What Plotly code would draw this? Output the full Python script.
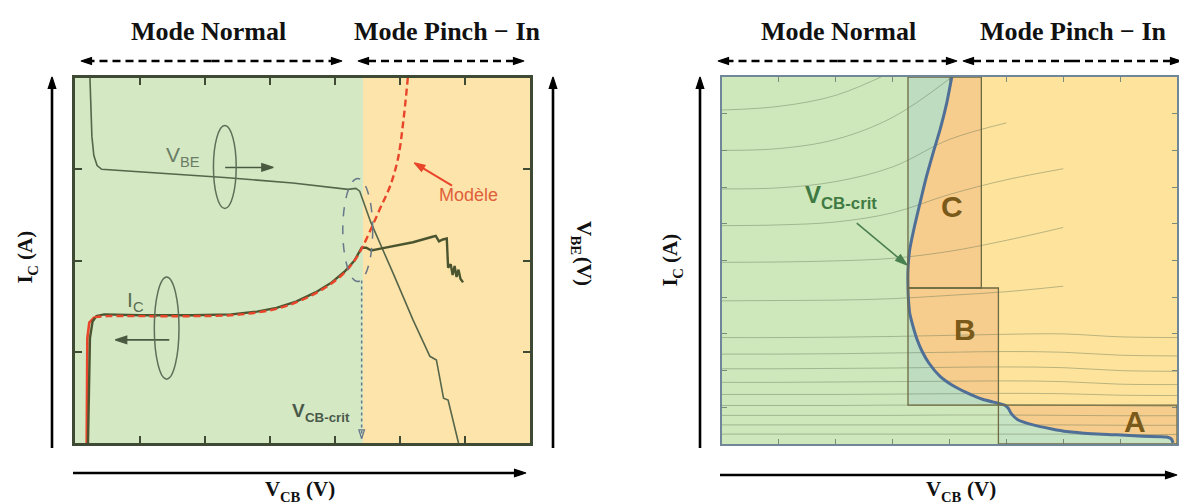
import math
import numpy as np
import plotly.graph_objects as go

# page geometry: the browser body adds an 8px margin, so the figure is placed at (8, 8)
OFF = 8
PAGE_W, PAGE_H = 1187, 504
W, H = PAGE_W - 2 * OFF, PAGE_H

# ---------------- Left panel data (x: V_CB 0..7, y: 0..4) ----------------
VBE_X = [0.23, 0.24, 0.26, 0.29, 0.34, 0.41, 1.30, 2.30, 3.35, 4.20, 4.32, 4.38, 4.42,
         4.55, 4.90, 5.20, 5.46, 5.56, 5.67, 5.74, 5.90]
VBE_Y = [4.00, 3.70, 3.36, 3.15, 3.04, 3.00, 2.96, 2.91, 2.85, 2.78, 2.79, 2.76, 2.68,
         2.42, 1.85, 1.35, 0.95, 0.91, 0.49, 0.47, 0.00]

IC_X = [0.20, 0.21, 0.23, 0.27, 0.33, 0.45, 1.00, 1.80, 2.40, 2.80, 3.10, 3.40, 3.70,
        3.95, 4.15, 4.30, 4.41, 4.48, 4.56, 4.70, 4.90, 5.20, 5.50, 5.55, 5.60, 5.66,
        5.72, 5.74, 5.78, 5.81, 5.84, 5.87, 5.90, 5.93, 5.97]
IC_Y = [0.00, 0.60, 1.15, 1.33, 1.39, 1.41, 1.40, 1.40, 1.41, 1.44, 1.48, 1.55, 1.65,
        1.76, 1.88, 2.00, 2.14, 2.14, 2.11, 2.13, 2.16, 2.20, 2.26, 2.27, 2.21, 2.23,
        2.24, 1.92, 1.96, 1.84, 1.94, 1.82, 1.90, 1.80, 1.76]

MODEL_X = [0.18, 0.18, 0.19, 0.22, 0.30, 0.50, 1.00, 1.80, 2.40, 2.80, 3.10, 3.40, 3.70,
           3.95, 4.15, 4.30, 4.41, 4.55, 4.70, 4.85, 4.97, 5.05, 5.12]
MODEL_Y = [0.00, 0.70, 1.15, 1.32, 1.38, 1.39, 1.39, 1.39, 1.40, 1.43, 1.47, 1.54, 1.64,
           1.75, 1.87, 2.00, 2.13, 2.34, 2.58, 2.82, 3.12, 3.52, 4.00]
MODEL_SOLID_PTS = 5

V_CRIT_LEFT = 4.43
LEFT_X_MAX, LEFT_Y_MAX = 7, 4

# ---------------- Right panel data (x: V_CB 0..8, y: I_C 0..10) ----------------
BOUND_X = [4.04, 3.95, 3.84, 3.71, 3.58, 3.48, 3.38, 3.30, 3.27, 3.27, 3.28, 3.30, 3.36,
           3.43, 3.52, 3.64, 3.83, 4.05, 4.30, 4.58, 4.86, 4.97, 5.03, 5.09, 5.20, 5.47,
           5.80, 6.06, 6.50, 6.94, 7.40, 7.82, 7.90, 7.93]
BOUND_Y = [10.0, 9.28, 8.60, 7.92, 7.20, 6.56, 5.90, 5.29, 4.74, 4.25, 3.90, 3.57, 3.20,
           2.85, 2.52, 2.20, 1.85, 1.60, 1.40, 1.22, 1.11, 1.06, 0.98, 0.82, 0.66, 0.52,
           0.41, 0.34, 0.28, 0.25, 0.21, 0.19, 0.14, 0.03]

BOX_LEFT = 3.27
BOX_C_RIGHT = 4.56
BOX_B_RIGHT = 4.86
Y_CB = 4.25
Y_BA = 1.06
RIGHT_X_MAX, RIGHT_Y_MAX = 8, 10

CONTOUR_X = [0, 1, 2, 3, 4, 5, 6, 7, 8]
CONTOUR_UPPER = [
    [9.10, 9.20, 9.50, 10.15, None, None, None, None, None],
    [8.00, 8.05, 8.30, 8.90, 9.95, None, None, None, None],
    [6.95, 6.98, 7.15, 7.55, 8.30, 8.75, None, None, None],
    [5.95, 5.97, 6.05, 6.30, 6.80, 7.20, 7.50, None, None],
    [4.95, 4.96, 4.99, 5.06, 5.25, 5.55, 5.90, None, None],
    [3.90, 3.91, 3.92, 3.96, 4.05, 4.15, 4.30, None, None],
]
CONTOUR_LOWER = [
    [2.90, 2.90, 2.91, 2.93, 2.96, 2.99, 3.00, 2.92, 2.90],
    [2.45, 2.45, 2.46, 2.48, 2.50, 2.52, 2.50, 2.42, 2.40],
    [2.05, 2.05, 2.06, 2.07, 2.09, 2.10, 2.08, 2.00, 1.98],
    [1.68, 1.68, 1.69, 1.70, 1.71, 1.72, 1.70, 1.63, 1.62],
    [1.35, 1.35, 1.35, 1.36, 1.37, 1.38, 1.37, 1.33, 1.32],
    [1.05, 1.05, 1.05, 1.06, 1.06, 1.07, 1.06, 1.04, 1.03],
    [0.78, 0.78, 0.78, 0.78, 0.79, 0.79, 0.78, 0.77, 0.77],
    [0.52, 0.52, 0.52, 0.52, 0.52, 0.52, 0.52, 0.51, 0.51],
    [0.27, 0.27, 0.27, 0.27, 0.27, 0.27, 0.27, 0.26, 0.26],
]

# ---------------- styles ----------------
L_GREEN, L_ORANGE = "#d4e8c4", "#fde4aa"
R_GREEN, R_ORANGE = "#cfe8bb", "#fde39c"
R_DARK_OR = "#f6cd8c"
R_STRIP = "#bddcc0"
R_UNDER = "#c6e4c4"
DARK = "#3e4a34"
SERIF = "Liberation Serif"
SANS = "Liberation Sans"

# panel placement in page pixels
L_BOX = (75, 530, 78, 443)     # left, right, top, bottom
R_BOX = (722, 1177, 77, 444)


def px(x):  # target page pixel -> paper
    return (x - OFF) / W


def py(y):
    return 1 - (y - OFF) / H


# screen pixels per data unit for each axis pair (y: negative = upward)
SCALE = {
    "x": ((L_BOX[1] - L_BOX[0]) / LEFT_X_MAX, -(L_BOX[3] - L_BOX[2]) / LEFT_Y_MAX),
    "x2": ((R_BOX[1] - R_BOX[0]) / RIGHT_X_MAX, -(R_BOX[3] - R_BOX[2]) / RIGHT_Y_MAX),
    "x3": (1.0, 1.0),
}


def to_page(xa, x, y):
    box = L_BOX if xa == "x" else R_BOX
    kx, ky = SCALE[xa]
    return box[0] + x * kx, box[3] + y * ky


fig = go.Figure()
shapes, annotations = [], []


def line_trace(xs, ys, xa, ya, color, width, dash=None, shape="linear", **kw):
    fig.add_trace(go.Scatter(x=xs, y=ys, mode="lines", xaxis=xa, yaxis=ya, hoverinfo="skip",
                             line=dict(color=color, width=width, dash=dash, shape=shape), **kw))


def arrow(x_tail, y_tail, x_tip, y_tip, xa, ya, color, width, head, dash=None, symbol="arrow"):
    kx, ky = SCALE[xa]
    dx, dy = (x_tip - x_tail) * kx, (y_tip - y_tail) * ky
    length = math.hypot(dx, dy)
    ang = math.degrees(math.atan2(dx, -dy))
    back = 0.0 if symbol.endswith("open") else min(0.6 * head / length, 0.5)
    xe = x_tip - (x_tip - x_tail) * back
    ye = y_tip - (y_tip - y_tail) * back
    line_trace([x_tail, xe], [y_tail, ye], xa, ya, color, width, dash=dash)
    fig.add_trace(go.Scatter(x=[x_tip], y=[y_tip], mode="markers", xaxis=xa, yaxis=ya,
                             hoverinfo="skip",
                             marker=dict(symbol=symbol, size=head, angle=ang, color=color,
                                         line=dict(color=color, width=1.3))))


# approximate advance widths (em) for Times/Arial-metric fonts
WIDTHS = {
    "serif-bold": {"V": .722, "C": .722, "B": .667, "E": .667, "I": .389, "A": .722,
                   "(": .333, ")": .333},
    "sans": {"V": .667, "B": .667, "E": .667, "I": .278, "C": .722},
    "sans-bold": {"V": .667, "C": .722, "B": .722, "-": .333, "c": .556, "r": .389,
                  "i": .278, "t": .333},
}


def twidth(s, size, key):
    return sum(WIDTHS[key].get(ch, 0.55) for ch in s) * size


def txt(x, y, text, size, color, xr="x3", yr="y3", family=SANS, weight="normal",
        xanchor="center", angle=0):
    annotations.append(dict(x=x, y=y, xref=xr, yref=yr, text=text, showarrow=False,
                            font=dict(family=family, size=size, color=color, weight=weight),
                            xanchor=xanchor, yanchor="middle", textangle=angle,
                            borderpad=0, borderwidth=0))


def rich(xc, yc, parts, size, color, family, key, weight="normal", angle=0, align="center"):
    """Main text + subscript laid out piece by piece (page pixel coordinates)."""
    sub = round(size * 0.7, 1)
    pieces = []
    for t, is_sub, gap in parts:
        s = sub if is_sub else size
        pieces.append((t, s, is_sub, gap * size, twidth(t, s, key)))
    total = sum(g + w for _, _, _, g, w in pieces)
    along = {"center": -total / 2, "right": -total, "left": 0}[align]
    for t, s, is_sub, g, w in pieces:
        along += g
        perp = (0.38 * size if is_sub else 0.0) - 0.1 * size
        if angle == 0:
            x, y, xa, ya = xc + along, yc + perp, "left", "middle"
        elif angle == -90:
            x, y, xa, ya = xc + perp, yc - along, "center", "bottom"
        else:
            x, y, xa, ya = xc - perp, yc + along, "center", "top"
        annotations.append(dict(x=x, y=y, xref="x3", yref="y3", text=t, showarrow=False,
                                font=dict(family=family, size=s, color=color, weight=weight),
                                xanchor=xa, yanchor=ya, textangle=angle,
                                borderpad=0, borderwidth=0))
        along += w


# ---------- left panel ----------
shapes.append(dict(type="rect", xref="x", yref="y", x0=0, x1=V_CRIT_LEFT, y0=0, y1=LEFT_Y_MAX,
                   fillcolor=L_GREEN, line_width=0, layer="below"))
shapes.append(dict(type="rect", xref="x", yref="y", x0=V_CRIT_LEFT, x1=LEFT_X_MAX, y0=0, y1=LEFT_Y_MAX,
                   fillcolor=L_ORANGE, line_width=0, layer="below"))

line_trace(VBE_X, VBE_Y, "x", "y", "#56664a", 1.6)
line_trace(MODEL_X[:MODEL_SOLID_PTS], MODEL_Y[:MODEL_SOLID_PTS], "x", "y", "#e8452a", 2.6)
line_trace(IC_X, IC_Y, "x", "y", "#4a5530", 2.4)
line_trace(MODEL_X[MODEL_SOLID_PTS - 1:], MODEL_Y[MODEL_SOLID_PTS - 1:], "x", "y", "#e8452a", 2.4,
           dash="7px,4px", shape="spline")

shapes.append(dict(type="circle", xref="x", yref="y", x0=2.13, x1=2.48, y0=2.57, y1=3.48,
                   line=dict(color="#5d7058", width=1.5)))
shapes.append(dict(type="circle", xref="x", yref="y", x0=1.22, x1=1.60, y0=0.70, y1=1.82,
                   line=dict(color="#5d7058", width=1.5)))
shapes.append(dict(type="circle", xref="x", yref="y", x0=4.12, x1=4.58, y0=1.77, y1=2.90,
                   line=dict(color="#66788a", width=1.5, dash="dash")))

arrow(2.31, 3.02, 3.05, 3.02, "x", "y", "#4a5a40", 1.6, 12)
arrow(1.45, 1.13, 0.62, 1.13, "x", "y", "#4a5a40", 1.6, 12)
arrow(4.41, 1.78, 4.41, 0.05, "x", "y", "#66788a", 1.5, 9, dash="dot", symbol="arrow-open")
arrow(5.80, 2.82, 5.22, 3.07, "x", "y", "#e8452a", 2.0, 11)

rich(*to_page("x", 1.66, 3.14), [("V", False, 0), ("BE", True, 0)], 21, "#6a7c64", SANS, "sans")
rich(*to_page("x", 0.93, 1.55), [("I", False, 0), ("C", True, 0)], 21, "#5a6c52", SANS, "sans")
rich(*to_page("x", 4.22, 0.34), [("V", False, 0), ("CB-crit", True, 0)], 19, "#4a5a4a", SANS,
     "sans-bold", weight="bold", align="right")
txt(*to_page("x", 6.05, 2.72), "Modèle", 18, "#e0603a")

# ---------- right panel ----------
bx, by = np.array(BOUND_X), np.array(BOUND_Y)


def seg(ylo, yhi):
    m = (by > ylo) & (by < yhi)
    xh = float(np.interp(yhi, by[::-1], bx[::-1]))
    xl = float(np.interp(ylo, by[::-1], bx[::-1]))
    return [xh] + list(bx[m]) + [xl], [yhi] + list(by[m]) + [ylo]


shapes.append(dict(type="rect", xref="x2", yref="y2", x0=0, x1=RIGHT_X_MAX, y0=0, y1=RIGHT_Y_MAX,
                   fillcolor=R_GREEN, line_width=0, layer="below"))


def fill(xs, ys, color):
    fig.add_trace(go.Scatter(x=xs, y=ys, mode="lines", fill="toself", fillcolor=color,
                             line=dict(width=0, color=color), xaxis="x2", yaxis="y2", hoverinfo="skip"))


y_end = BOUND_Y[-1]
fill(list(bx) + [RIGHT_X_MAX, RIGHT_X_MAX], list(by) + [y_end, RIGHT_Y_MAX], R_ORANGE)
sx, sy = seg(Y_CB, RIGHT_Y_MAX)
fill(sx + [BOX_C_RIGHT, BOX_C_RIGHT], sy + [Y_CB, RIGHT_Y_MAX], R_DARK_OR)
sx, sy = seg(Y_BA, Y_CB)
fill(sx + [BOX_B_RIGHT, BOX_B_RIGHT], sy + [Y_BA, Y_CB], R_DARK_OR)
sx, sy = seg(y_end - 0.001, Y_BA)
fill(sx + [RIGHT_X_MAX, RIGHT_X_MAX], sy + [y_end, Y_BA], R_DARK_OR)
sx, sy = seg(Y_BA, RIGHT_Y_MAX)
fill([BOX_LEFT] + sx + [BOX_LEFT], [RIGHT_Y_MAX] + sy + [Y_BA], R_STRIP)
sx, sy = seg(y_end - 0.001, Y_BA)
fill(sx + [RIGHT_X_MAX, BOX_B_RIGHT, BOX_B_RIGHT], sy + [0, 0, Y_BA], R_UNDER)

for row in CONTOUR_UPPER + CONTOUR_LOWER:
    line_trace(CONTOUR_X, row, "x2", "y2", "rgba(95,115,85,0.42)", 1, shape="spline",
               connectgaps=False)

BOX_LINE = dict(color="#6e6a42", width=1.3)
for x0, x1, y0, y1 in [(BOX_LEFT, BOX_C_RIGHT, Y_CB, RIGHT_Y_MAX),
                       (BOX_LEFT, BOX_B_RIGHT, Y_BA, Y_CB),
                       (BOX_B_RIGHT, RIGHT_X_MAX, 0, Y_BA)]:
    shapes.append(dict(type="rect", xref="x2", yref="y2", x0=x0, x1=x1, y0=y0, y1=y1, line=BOX_LINE))

fig.add_trace(go.Scatter(x=BOUND_X, y=BOUND_Y, mode="lines", xaxis="x2", yaxis="y2", hoverinfo="skip",
                         line=dict(color="#4f6f96", width=3, shape="spline", smoothing=0.6)))

txt(*to_page("x2", 4.04, 6.47), "C", 30, "#7a5a1a", weight="bold")
txt(*to_page("x2", 4.27, 3.11), "B", 30, "#7a5a1a", weight="bold")
txt(*to_page("x2", 7.26, 0.62), "A", 30, "#7a5a1a", weight="bold")
rich(*to_page("x2", 2.09, 6.73), [("V", False, 0), ("CB-crit", True, 0)], 24, "#3f7a43", SANS,
     "sans-bold", weight="bold")
arrow(2.37, 6.02, 3.25, 4.88, "x2", "y2", "#4a8050", 1.6, 12)

# ---------- outer decorations on a full-page overlay axis (target page pixels) ----------
for x0, x1, yy in [(81, 342, 61), (358, 524, 61), (718, 957, 61), (963, 1181, 61)]:
    xm = (x0 + x1) / 2
    arrow(xm, yy, x1, yy, "x3", "y3", "black", 2.6, 11, dash="8px,5px")
    arrow(xm, yy, x0, yy, "x3", "y3", "black", 2.6, 11, dash="8px,5px")

for x0, y0, x1, y1 in [(73, 473, 526, 473), (720, 475, 1177, 475),
                       (52, 448, 52, 77), (553, 448, 553, 77), (700, 448, 700, 77)]:
    arrow(x0, y0, x1, y1, "x3", "y3", "black", 2.6, 12)

TITLE_FONT = 26
for xc, label in [(208, "Mode Normal"), (447, "Mode Pinch − In"),
                  (838, "Mode Normal"), (1073, "Mode Pinch − In")]:
    txt(xc, 31, label, TITLE_FONT, "#111", family=SERIF, weight="bold")

LAB = 21
rich(300, 491, [("V", False, 0), ("CB", True, 0), ("(V)", False, 0.25)], LAB, "#111", SERIF,
     "serif-bold", weight="bold")
rich(961, 491, [("V", False, 0), ("CB", True, 0), ("(V)", False, 0.25)], LAB, "#111", SERIF,
     "serif-bold", weight="bold")
rich(27, 257, [("I", False, 0), ("C", True, 0), ("(A)", False, 0.25)], LAB, "#111", SERIF,
     "serif-bold", weight="bold", angle=-90)
rich(672, 260, [("I", False, 0), ("C", True, 0), ("(A)", False, 0.25)], LAB, "#111", SERIF,
     "serif-bold", weight="bold", angle=-90)
rich(582, 253, [("V", False, 0), ("BE", True, 0), ("(V)", False, 0.05)], LAB, "#111", SERIF,
     "serif-bold", weight="bold", angle=90)

axis_common = dict(showticklabels=False, showgrid=False, zeroline=False, showline=True,
                   mirror="ticks", ticks="inside", dtick=1, fixedrange=True)
hidden = dict(visible=False, fixedrange=True, showgrid=False, zeroline=False)
fig.update_layout(
    width=W, height=H, margin=dict(l=0, r=0, t=0, b=0),
    paper_bgcolor="white", plot_bgcolor="rgba(0,0,0,0)", showlegend=False,
    xaxis=dict(domain=[px(L_BOX[0]), px(L_BOX[1])], range=[0, LEFT_X_MAX], anchor="y",
               linecolor=DARK, linewidth=2.5, ticklen=7, tickwidth=2, tickcolor=DARK, **axis_common),
    yaxis=dict(domain=[py(L_BOX[3]), py(L_BOX[2])], range=[0, LEFT_Y_MAX], anchor="x",
               linecolor=DARK, linewidth=2.5, ticklen=7, tickwidth=2, tickcolor=DARK, **axis_common),
    xaxis2=dict(domain=[px(R_BOX[0]), px(R_BOX[1])], range=[0, RIGHT_X_MAX], anchor="y2",
                linecolor="#6f8798", linewidth=2, ticklen=5, tickwidth=1, tickcolor="#7b8b7b",
                **axis_common),
    yaxis2=dict(domain=[py(R_BOX[3]), py(R_BOX[2])], range=[0, RIGHT_Y_MAX], anchor="x2",
                linecolor="#6f8798", linewidth=2, ticklen=5, tickwidth=1, tickcolor="#7b8b7b",
                **axis_common),
    xaxis3=dict(domain=[0, 1], range=[OFF, OFF + W], anchor="y3", **hidden),
    yaxis3=dict(domain=[0, 1], range=[OFF + H, OFF], anchor="x3", **hidden),
    shapes=shapes, annotations=annotations,
)

fig.write_html("out.html")
